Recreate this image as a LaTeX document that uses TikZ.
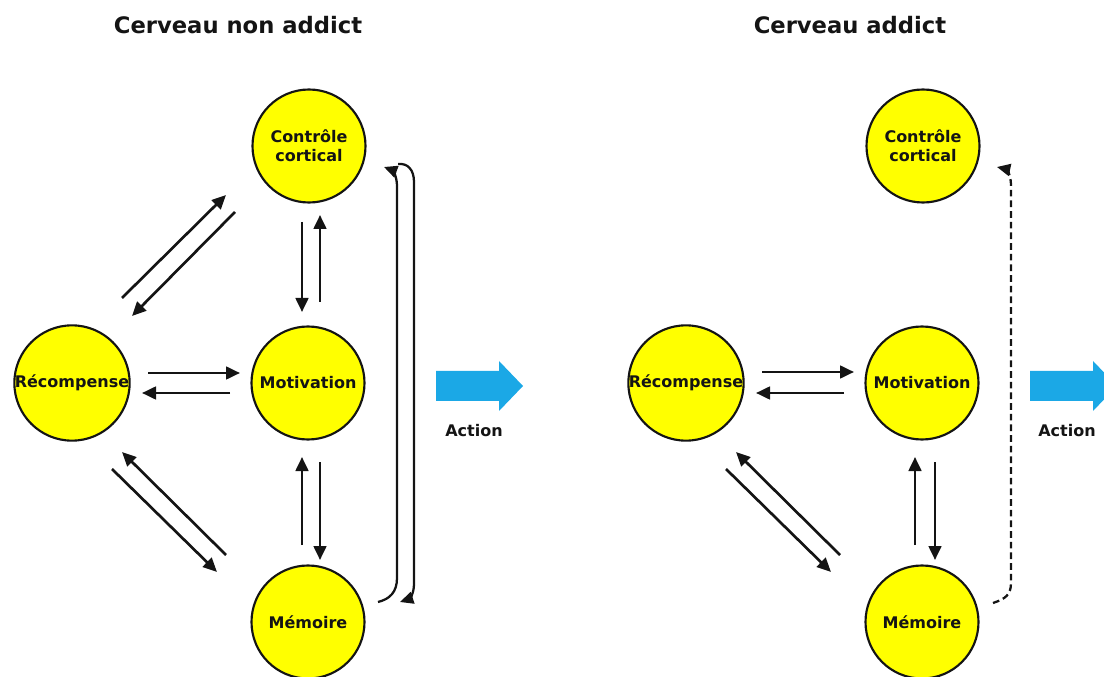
\documentclass[tikz,border=0pt]{standalone}
\usepackage{fontspec}
\setmainfont{DejaVu Sans}
\usetikzlibrary{arrows.meta,calc}
\definecolor{actionblue}{RGB}{27,168,230}
\definecolor{ink}{RGB}{20,20,20}
\definecolor{circfill}{RGB}{255,255,0}
\tikzset{
  region/.style={circle, draw=ink, line width=1.6pt, fill=circfill, minimum size=84.75pt, inner sep=0pt, align=center, font=\fontsize{12}{14}\selectfont\bfseries, text=ink},
  title/.style={font=\fontsize{17}{20}\selectfont\bfseries, text=ink},
  actlabel/.style={font=\fontsize{12}{14}\selectfont\bfseries, text=ink},
  arr/.style={line width=2pt, draw=ink, -{Triangle[length=10.5pt,width=9.5pt]}},
  looparr/.style={line width=1.7pt, draw=ink, -{Triangle[length=10pt,width=9pt]}},
  dasharr/.style={line width=1.7pt, draw=ink, dash pattern=on 5pt off 3pt, -{Triangle[length=10pt,width=9pt]}},
  bigarrow/.style={fill=actionblue, draw=none}
}
\begin{document}
\begin{tikzpicture}[x=0.75pt,y=-0.75pt]
\useasboundingbox (0,0) rectangle (1104,677);
\clip (0,0) rectangle (1104,677);

% titles
\node[title] (t1) at (238,25) {Cerveau non addict};
\node[title] (t2) at (850,25) {Cerveau addict};

% left diagram
\node[region] (cc) at (309,146) {Contrôle\\cortical};
\node[region] (mo) at (308,383) {Motivation};
\node[region] (me) at (308,622) {Mémoire};
\node[region] (rc) at (72,383) {Récompense};

\draw[arr] ($(rc)+(50,-85)$) -- ($(cc)+(-83,49)$);
\draw[arr] ($(cc)+(-74,66)$) -- ($(rc)+(60,-67)$);
\draw[arr] ($(cc)+(-7,76)$) -- ($(mo)+(-6,-71)$);
\draw[arr] ($(mo)+(12,-81)$) -- ($(cc)+(11,69)$);
\draw[arr] ($(rc)+(76,-10)$) -- ($(mo)+(-68,-10)$);
\draw[arr] ($(mo)+(-78,10)$) -- ($(rc)+(70,10)$);
\draw[arr] ($(me)+(-82,-67)$) -- ($(rc)+(50,69)$);
\draw[arr] ($(rc)+(40,86)$) -- ($(me)+(-91,-50)$);
\draw[arr] ($(me)+(-6,-77)$) -- ($(mo)+(-6,74)$);
\draw[arr] ($(mo)+(12,79)$) -- ($(me)+(12,-62)$);

% loop arrows
\draw[looparr] ($(me)+(70,-20)$) .. controls ($(me)+(82,-23)$) and ($(me)+(89,-30)$) .. ($(me)+(89,-44)$)
  -- ($(cc)+(88,40)$) .. controls ($(cc)+(88,30)$) and ($(cc)+(83,24)$) .. ($(cc)+(75,21)$);
\draw[looparr] ($(cc)+(89,18)$) .. controls ($(cc)+(99,17)$) and ($(cc)+(105,24)$) .. ($(cc)+(105,36)$)
  -- ($(me)+(106,-38)$) .. controls ($(me)+(106,-28)$) and ($(me)+(101,-23)$) .. ($(me)+(92,-20)$);

% action arrow left
\fill[bigarrow] (436,371) -- (499,371) -- (499,361) -- (523,386) -- (499,411) -- (499,401) -- (436,401) -- cycle;
\node[actlabel] (a1) at (474,431) {Action};

% right diagram
\node[region] (cc2) at (923,146) {Contrôle\\cortical};
\node[region] (mo2) at (922,383) {Motivation};
\node[region] (me2) at (922,622) {Mémoire};
\node[region] (rc2) at (686,383) {Récompense};

\draw[arr] ($(rc2)+(76,-11)$) -- ($(mo2)+(-68,-11)$);
\draw[arr] ($(mo2)+(-78,10)$) -- ($(rc2)+(70,10)$);
\draw[arr] ($(me2)+(-82,-67)$) -- ($(rc2)+(50,69)$);
\draw[arr] ($(rc2)+(40,86)$) -- ($(me2)+(-91,-50)$);
\draw[arr] ($(me2)+(-7,-77)$) -- ($(mo2)+(-7,74)$);
\draw[arr] ($(mo2)+(13,79)$) -- ($(me2)+(13,-62)$);

\draw[dasharr] ($(me2)+(71,-19)$) .. controls ($(me2)+(83,-23)$) and ($(me2)+(89,-27)$) .. ($(me2)+(89,-39)$)
  -- ($(cc2)+(88,39)$) .. controls ($(cc2)+(88,29)$) and ($(cc2)+(83,23)$) .. ($(cc2)+(74,21)$);

% action arrow right
\fill[bigarrow] (1030,371) -- (1093,371) -- (1093,361) -- (1117,386) -- (1093,411) -- (1093,401) -- (1030,401) -- cycle;
\node[actlabel] (a2) at (1067,431) {Action};
\end{tikzpicture}
\end{document}
